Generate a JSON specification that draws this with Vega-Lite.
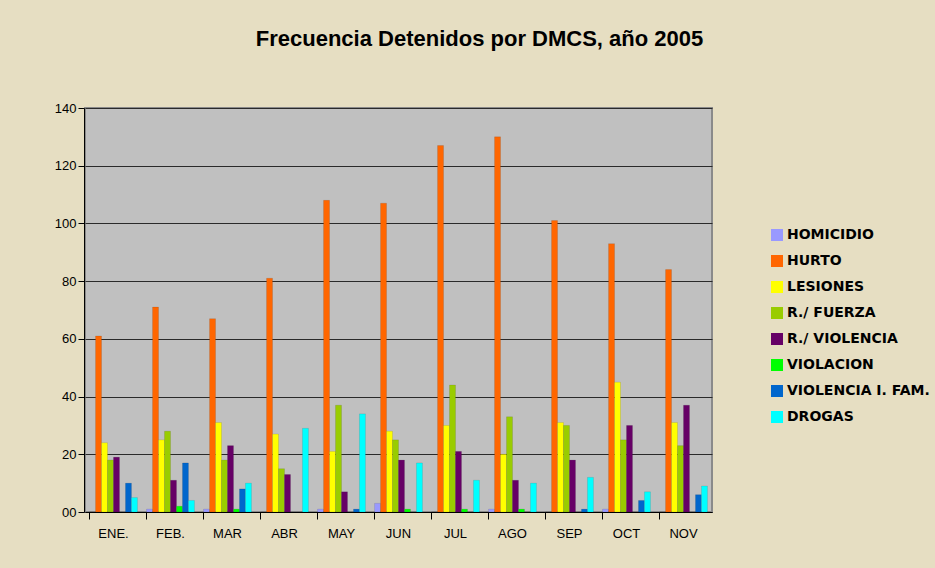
{
  "$schema": "https://vega.github.io/schema/vega-lite/v6.json",
  "width": 627,
  "height": 404,
  "autosize": {"type": "none"},
  "padding": {"left": 85, "top": 108, "right": 223, "bottom": 56},
  "background": "#E6DEC2",
  "title": {
    "text": "Frecuencia Detenidos por DMCS, año 2005",
    "font": "Liberation Sans",
    "fontSize": 22,
    "fontWeight": "bold",
    "color": "#000000",
    "anchor": "middle",
    "dx": 81,
    "offset": 51
  },
  "data": {
    "values": [
      {"mes": "ENE.", "delito": "HOMICIDIO", "n": 0},
      {"mes": "ENE.", "delito": "HURTO", "n": 61},
      {"mes": "ENE.", "delito": "LESIONES", "n": 24},
      {"mes": "ENE.", "delito": "R./ FUERZA", "n": 18},
      {"mes": "ENE.", "delito": "R./ VIOLENCIA", "n": 19},
      {"mes": "ENE.", "delito": "VIOLACION", "n": 0},
      {"mes": "ENE.", "delito": "VIOLENCIA I. FAM.", "n": 10},
      {"mes": "ENE.", "delito": "DROGAS", "n": 5},
      {"mes": "FEB.", "delito": "HOMICIDIO", "n": 1},
      {"mes": "FEB.", "delito": "HURTO", "n": 71},
      {"mes": "FEB.", "delito": "LESIONES", "n": 25},
      {"mes": "FEB.", "delito": "R./ FUERZA", "n": 28},
      {"mes": "FEB.", "delito": "R./ VIOLENCIA", "n": 11},
      {"mes": "FEB.", "delito": "VIOLACION", "n": 2},
      {"mes": "FEB.", "delito": "VIOLENCIA I. FAM.", "n": 17},
      {"mes": "FEB.", "delito": "DROGAS", "n": 4},
      {"mes": "MAR", "delito": "HOMICIDIO", "n": 1},
      {"mes": "MAR", "delito": "HURTO", "n": 67},
      {"mes": "MAR", "delito": "LESIONES", "n": 31},
      {"mes": "MAR", "delito": "R./ FUERZA", "n": 18},
      {"mes": "MAR", "delito": "R./ VIOLENCIA", "n": 23},
      {"mes": "MAR", "delito": "VIOLACION", "n": 1},
      {"mes": "MAR", "delito": "VIOLENCIA I. FAM.", "n": 8},
      {"mes": "MAR", "delito": "DROGAS", "n": 10},
      {"mes": "ABR", "delito": "HOMICIDIO", "n": 0},
      {"mes": "ABR", "delito": "HURTO", "n": 81},
      {"mes": "ABR", "delito": "LESIONES", "n": 27},
      {"mes": "ABR", "delito": "R./ FUERZA", "n": 15},
      {"mes": "ABR", "delito": "R./ VIOLENCIA", "n": 13},
      {"mes": "ABR", "delito": "VIOLACION", "n": 0},
      {"mes": "ABR", "delito": "VIOLENCIA I. FAM.", "n": 0},
      {"mes": "ABR", "delito": "DROGAS", "n": 29},
      {"mes": "MAY", "delito": "HOMICIDIO", "n": 1},
      {"mes": "MAY", "delito": "HURTO", "n": 108},
      {"mes": "MAY", "delito": "LESIONES", "n": 21},
      {"mes": "MAY", "delito": "R./ FUERZA", "n": 37},
      {"mes": "MAY", "delito": "R./ VIOLENCIA", "n": 7},
      {"mes": "MAY", "delito": "VIOLACION", "n": 0},
      {"mes": "MAY", "delito": "VIOLENCIA I. FAM.", "n": 1},
      {"mes": "MAY", "delito": "DROGAS", "n": 34},
      {"mes": "JUN", "delito": "HOMICIDIO", "n": 3},
      {"mes": "JUN", "delito": "HURTO", "n": 107},
      {"mes": "JUN", "delito": "LESIONES", "n": 28},
      {"mes": "JUN", "delito": "R./ FUERZA", "n": 25},
      {"mes": "JUN", "delito": "R./ VIOLENCIA", "n": 18},
      {"mes": "JUN", "delito": "VIOLACION", "n": 1},
      {"mes": "JUN", "delito": "VIOLENCIA I. FAM.", "n": 0},
      {"mes": "JUN", "delito": "DROGAS", "n": 17},
      {"mes": "JUL", "delito": "HOMICIDIO", "n": 0},
      {"mes": "JUL", "delito": "HURTO", "n": 127},
      {"mes": "JUL", "delito": "LESIONES", "n": 30},
      {"mes": "JUL", "delito": "R./ FUERZA", "n": 44},
      {"mes": "JUL", "delito": "R./ VIOLENCIA", "n": 21},
      {"mes": "JUL", "delito": "VIOLACION", "n": 1},
      {"mes": "JUL", "delito": "VIOLENCIA I. FAM.", "n": 0},
      {"mes": "JUL", "delito": "DROGAS", "n": 11},
      {"mes": "AGO", "delito": "HOMICIDIO", "n": 1},
      {"mes": "AGO", "delito": "HURTO", "n": 130},
      {"mes": "AGO", "delito": "LESIONES", "n": 20},
      {"mes": "AGO", "delito": "R./ FUERZA", "n": 33},
      {"mes": "AGO", "delito": "R./ VIOLENCIA", "n": 11},
      {"mes": "AGO", "delito": "VIOLACION", "n": 1},
      {"mes": "AGO", "delito": "VIOLENCIA I. FAM.", "n": 0},
      {"mes": "AGO", "delito": "DROGAS", "n": 10},
      {"mes": "SEP", "delito": "HOMICIDIO", "n": 0},
      {"mes": "SEP", "delito": "HURTO", "n": 101},
      {"mes": "SEP", "delito": "LESIONES", "n": 31},
      {"mes": "SEP", "delito": "R./ FUERZA", "n": 30},
      {"mes": "SEP", "delito": "R./ VIOLENCIA", "n": 18},
      {"mes": "SEP", "delito": "VIOLACION", "n": 0},
      {"mes": "SEP", "delito": "VIOLENCIA I. FAM.", "n": 1},
      {"mes": "SEP", "delito": "DROGAS", "n": 12},
      {"mes": "OCT", "delito": "HOMICIDIO", "n": 1},
      {"mes": "OCT", "delito": "HURTO", "n": 93},
      {"mes": "OCT", "delito": "LESIONES", "n": 45},
      {"mes": "OCT", "delito": "R./ FUERZA", "n": 25},
      {"mes": "OCT", "delito": "R./ VIOLENCIA", "n": 30},
      {"mes": "OCT", "delito": "VIOLACION", "n": 0},
      {"mes": "OCT", "delito": "VIOLENCIA I. FAM.", "n": 4},
      {"mes": "OCT", "delito": "DROGAS", "n": 7},
      {"mes": "NOV", "delito": "HOMICIDIO", "n": 0},
      {"mes": "NOV", "delito": "HURTO", "n": 84},
      {"mes": "NOV", "delito": "LESIONES", "n": 31},
      {"mes": "NOV", "delito": "R./ FUERZA", "n": 23},
      {"mes": "NOV", "delito": "R./ VIOLENCIA", "n": 37},
      {"mes": "NOV", "delito": "VIOLACION", "n": 0},
      {"mes": "NOV", "delito": "VIOLENCIA I. FAM.", "n": 6},
      {"mes": "NOV", "delito": "DROGAS", "n": 9}
    ]
  },
  "mark": {"type": "bar", "stroke": "#00000033", "strokeWidth": 0.5},
  "encoding": {
    "x": {
      "field": "mes",
      "type": "nominal",
      "sort": ["ENE.", "FEB.", "MAR", "ABR", "MAY", "JUN", "JUL", "AGO", "SEP", "OCT", "NOV"],
      "scale": {"paddingInner": 0.16, "paddingOuter": 0.08},
      "axis": {
        "title": null,
        "labelAngle": 0,
        "labelFont": "Liberation Sans",
        "labelFontSize": 13,
        "labelColor": "#000000",
        "labelPadding": 8,
        "bandPosition": 0,
        "tickSize": 7,
        "tickColor": "#000000",
        "domainColor": "#000000",
        "grid": false
      }
    },
    "xOffset": {
      "field": "delito",
      "type": "nominal",
      "sort": ["HOMICIDIO", "HURTO", "LESIONES", "R./ FUERZA", "R./ VIOLENCIA", "VIOLACION", "VIOLENCIA I. FAM.", "DROGAS"],
      "scale": {"paddingInner": 0, "paddingOuter": 0}
    },
    "y": {
      "field": "n",
      "type": "quantitative",
      "scale": {"domain": [0, 140], "nice": false},
      "axis": {
        "title": null,
        "values": [0, 20, 40, 60, 80, 100, 120, 140],
        "labelExpr": "datum.value == 0 ? '00' : datum.label",
        "labelFont": "Liberation Sans",
        "labelFontSize": 13,
        "labelColor": "#000000",
        "labelPadding": 2,
        "tickSize": 6,
        "tickColor": "#000000",
        "domainColor": "#000000",
        "offset": 1,
        "gridColor": "#2a2a2a",
        "gridWidth": 1
      }
    },
    "color": {
      "field": "delito",
      "type": "nominal",
      "sort": ["HOMICIDIO", "HURTO", "LESIONES", "R./ FUERZA", "R./ VIOLENCIA", "VIOLACION", "VIOLENCIA I. FAM.", "DROGAS"],
      "scale": {
        "domain": ["HOMICIDIO", "HURTO", "LESIONES", "R./ FUERZA", "R./ VIOLENCIA", "VIOLACION", "VIOLENCIA I. FAM.", "DROGAS"],
        "range": ["#9999FF", "#FF6600", "#FFFF00", "#99CC00", "#660066", "#00FF00", "#0066CC", "#00FFFF"]
      },
      "legend": {
        "title": null,
        "orient": "none",
        "legendX": 685,
        "legendY": 120,
        "symbolType": "square",
        "symbolSize": 144,
        "symbolStrokeWidth": 0,
        "symbolOpacity": 1,
        "labelFont": "DejaVu Sans",
        "labelFontWeight": "bold",
        "labelFontSize": 14,
        "labelColor": "#000000",
        "labelOffset": 3,
        "rowPadding": 12,
        "labelLimit": 300
      }
    }
  },
  "config": {
    "view": {"fill": "#C0C0C0", "stroke": "#8a8a8a", "strokeWidth": 2}
  }
}
